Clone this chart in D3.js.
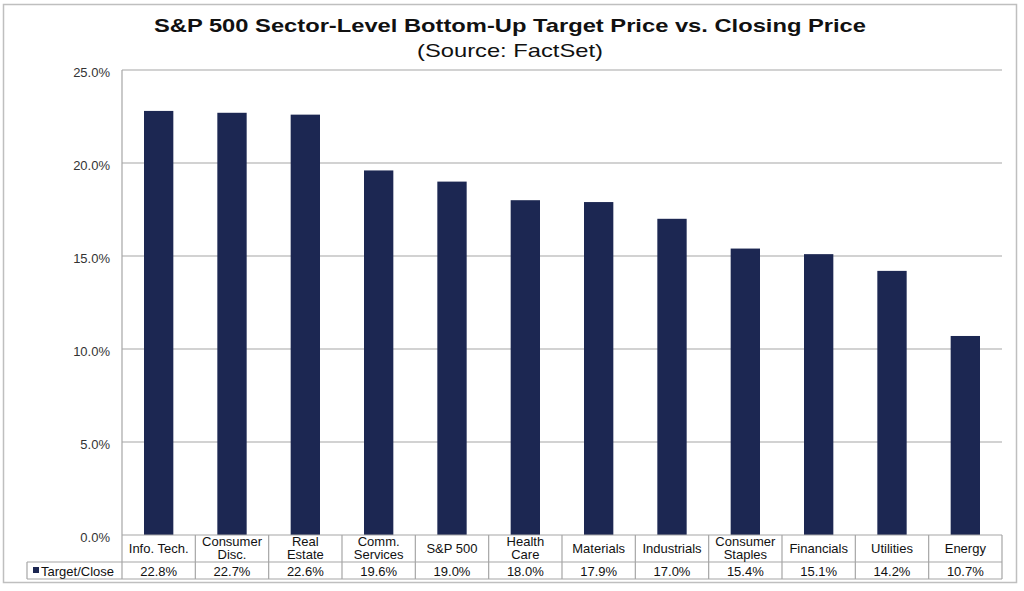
<!DOCTYPE html>
<html><head><meta charset="utf-8">
<script src="https://cdn.jsdelivr.net/npm/d3@7/dist/d3.min.js"></script>
<style>
html,body{margin:0;padding:0;background:#fff;}
svg{display:block;font-family:"Liberation Sans",Arial,sans-serif;}
</style></head><body>
<svg id="c" width="1024" height="591"></svg>
<script>
const categories = [["Info. Tech."],["Consumer","Disc."],["Real","Estate"],["Comm.","Services"],["S&P 500"],["Health","Care"],["Materials"],["Industrials"],["Consumer","Staples"],["Financials"],["Utilities"],["Energy"]];
const values = [22.8,22.7,22.6,19.6,19.0,18.0,17.9,17.0,15.4,15.1,14.2,10.7];
const yTicks = [0,5,10,15,20,25];
const seriesName = "Target/Close";
const titleText = "S&P 500 Sector-Level Bottom-Up Target Price vs. Closing Price";
const subtitleText = "(Source: FactSet)";

const svg = d3.select("#c");
const L=122,R=1002,T=70,B=535;
const row1=562, row2=579, legL=27;
const barColor="#1c2752";
const gridColor="#a6a6a6";

// outer border
svg.append("rect").attr("x",3.5).attr("y",4.5).attr("width",1013).attr("height",578)
  .attr("fill","none").attr("stroke","#bfbfbf").attr("stroke-width",1.5);

svg.append("text").attr("x",510).attr("y",32).attr("text-anchor","middle")
  .attr("font-size",19).attr("font-weight","bold").attr("fill","#111")
  .attr("textLength",712).attr("lengthAdjust","spacingAndGlyphs").text(titleText);
svg.append("text").attr("x",510).attr("y",57).attr("text-anchor","middle")
  .attr("font-size",19).attr("fill","#111")
  .attr("textLength",186).attr("lengthAdjust","spacingAndGlyphs").text(subtitleText);

const x = d3.scaleBand().domain(d3.range(categories.length)).range([L,R]).paddingInner(0.6).paddingOuter(0.3);
const xc = d3.scaleBand().domain(d3.range(categories.length)).range([L,R]);
const y = d3.scaleLinear().domain([0,25]).range([B,T]);

// gridlines
svg.append("g").selectAll("line").data(yTicks.filter(d=>d>0)).join("line")
  .attr("x1",L).attr("x2",R).attr("y1",d=>y(d)).attr("y2",d=>y(d))
  .attr("stroke",gridColor).attr("stroke-width",1.2);

// y axis
const yAxis = d3.axisLeft(y).tickValues(yTicks).tickFormat(d=>d.toFixed(1)+"%").tickSize(0).tickPadding(12);
const ga = svg.append("g").attr("transform",`translate(${L},0)`).call(yAxis);
ga.select(".domain").remove();
ga.selectAll("text").attr("font-size",13).attr("fill","#333").attr("font-family","Liberation Sans, Arial, sans-serif").attr("dy","0.5em");

// bars
svg.append("g").selectAll("rect").data(values).join("rect")
  .attr("x",(d,i)=>x(i)).attr("width",x.bandwidth())
  .attr("y",d=>y(d)).attr("height",d=>y(0)-y(d)).attr("fill",barColor);

// left axis line
svg.append("line").attr("x1",L).attr("x2",L).attr("y1",T).attr("y2",row2).attr("stroke",gridColor).attr("stroke-width",1.2);

// table lines
const tl = svg.append("g").attr("stroke",gridColor).attr("stroke-width",1.2);
tl.append("line").attr("x1",L).attr("x2",R).attr("y1",B).attr("y2",B);
tl.append("line").attr("x1",legL).attr("x2",R).attr("y1",row1).attr("y2",row1);
tl.append("line").attr("x1",legL).attr("x2",R).attr("y1",row2).attr("y2",row2);
tl.append("line").attr("x1",legL).attr("x2",legL).attr("y1",row1).attr("y2",row2);
tl.selectAll(".v").data(d3.range(1,categories.length+1)).join("line")
  .attr("x1",i=>xc(0)+i*xc.bandwidth()).attr("x2",i=>xc(0)+i*xc.bandwidth()).attr("y1",B).attr("y2",row2);

// category labels
const cg = svg.append("g").attr("font-size",13).attr("fill","#111").attr("text-anchor","middle");
categories.forEach((c,i)=>{
  const cx = xc(i)+xc.bandwidth()/2;
  const t = cg.append("text").attr("x",cx);
  if(c.length===1){ t.attr("y",553).text(c[0]); }
  else { t.append("tspan").attr("x",cx).attr("y",546).text(c[0]); t.append("tspan").attr("x",cx).attr("y",559).text(c[1]); }
});

// values row
svg.append("g").attr("font-size",13).attr("fill","#111").attr("text-anchor","middle")
  .selectAll("text").data(values).join("text")
  .attr("x",(d,i)=>xc(i)+xc.bandwidth()/2).attr("y",575.5).text(d=>d.toFixed(1)+"%");

// legend cell
svg.append("rect").attr("x",33).attr("y",567).attr("width",6).attr("height",6).attr("fill",barColor);
svg.append("text").attr("x",41).attr("y",575.5).attr("font-size",13).attr("fill","#111").text(seriesName);
</script>
</body></html>
